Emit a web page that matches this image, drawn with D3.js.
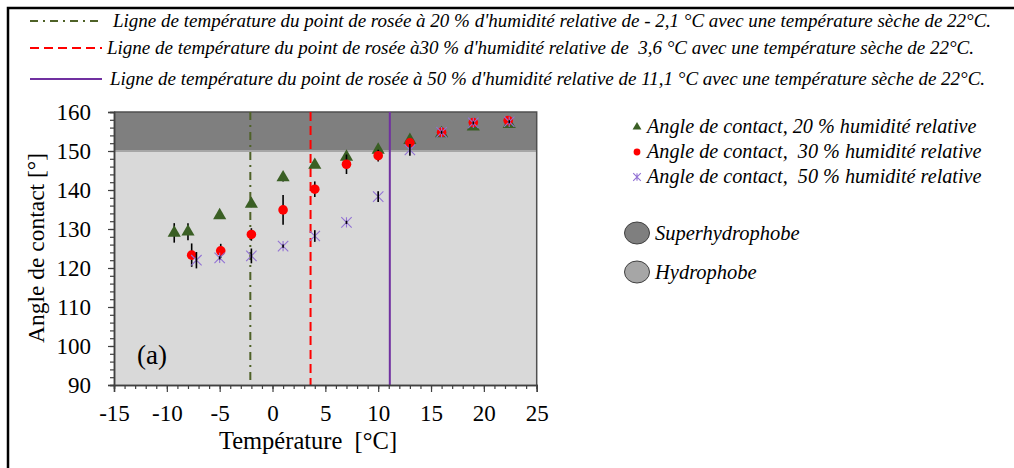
<!DOCTYPE html>
<html>
<head>
<meta charset="utf-8">
<script src="https://cdn.jsdelivr.net/npm/d3@7"></script>
<style>
  html, body { margin: 0; padding: 0; background: #fff; }
  svg { display: block; }
  text { font-family: "Liberation Serif", "Times New Roman", serif; fill: #000; }
</style>
</head>
<body>
<svg id="chart" width="1014" height="468"></svg>
<script>
// Contact angle measurements (°) versus surface temperature (°C)
const temps20  = [-9.3, -8, -5, -2, 1, 4, 7, 10, 13, 16, 19, 22.4];
const angles20 = [129.0, 129.3, 133.5, 136.4, 143.2, 146.4, 148.5, 150.3, 152.8, 154.5, 156.2, 156.9];
const errors20 = [2.5, 2.2, 0.4, 0.8, 1.0, 0.5, 0.5, 0.5, 0.5, 0.4, 0.4, 0.4];

const temps30  = [-7.65, -4.9, -2, 1, 4, 7, 10, 13, 16, 19, 22.3];
const angles30 = [123.3, 124.4, 128.6, 134.9, 140.2, 146.6, 148.8, 152.1, 154.8, 157.3, 157.8];
const errors30 = [3.0, 1.8, 1.6, 3.8, 2.0, 2.5, 1.5, 0.5, 0.5, 0.4, 0.4];

const temps50  = [-7.2, -5, -2, 1, 4, 7, 10, 13, 16, 19, 22.4];
const angles50 = [122.0, 122.6, 123.1, 125.6, 128.2, 131.7, 138.3, 150.3, 154.8, 157.2, 157.5];
const errors50 = [2.1, 0.4, 1.9, 0.4, 1.5, 0.4, 1.4, 1.5, 0.4, 0.4, 0.4];

// Dew point temperatures (°C) at 20 %, 30 % and 50 % RH for a 22 °C dry bulb
const dewPoints = [-2.1, 3.6, 11.1];
const dewLabels = [
  "Ligne de température du point de rosée à 20 % d'humidité relative de - 2,1 °C avec une température sèche de 22°C.",
  "Ligne de température du point de rosée à30 % d'humidité relative de  3,6 °C avec une température sèche de 22°C.",
  "Ligne de température du point de rosée à 50 % d'humidité relative de 11,1 °C avec une température sèche de 22°C."
];
const seriesLabels = [
  "Angle de contact, 20 % humidité relative",
  "Angle de contact,  30 % humidité relative",
  "Angle de contact,  50 % humidité relative"
];
const zoneLabels = ["Superhydrophobe", "Hydrophobe"];
const zoneBounds = [[150, 160], [90, 150]];

const xTicks = [-15, -10, -5, 0, 5, 10, 15, 20, 25];
const yTicks = [90, 100, 110, 120, 130, 140, 150, 160];

const svg = d3.select("#chart");

// Outer frame
svg.append("rect")
  .attr("x", 8).attr("y", 8).attr("width", 1030).attr("height", 480)
  .attr("fill", "none").attr("stroke", "#000").attr("stroke-width", 2.5);

const x = d3.scaleLinear().domain([-15, 25]).range([114, 536.7]);
const y = d3.scaleLinear().domain([90, 160]).range([385, 112]);

// Wettability zones
const zoneFills = ["#7f7f7f", "#d9d9d9"];
svg.selectAll("rect.zone").data(zoneBounds).join("rect")
  .attr("class", "zone")
  .attr("x", x(-15)).attr("width", x(25) - x(-15))
  .attr("y", d => y(d[1])).attr("height", d => y(d[0]) - y(d[1]))
  .attr("fill", (d, i) => zoneFills[i]);
svg.append("line")
  .attr("x1", x(-15)).attr("x2", x(25)).attr("y1", y(150)).attr("y2", y(150))
  .attr("stroke", "#a6a6a6").attr("stroke-width", 2);

// Plot border (top and right)
svg.append("path")
  .attr("d", `M${x(-15)},${y(160)}H${x(25)}V${y(90)}`)
  .attr("fill", "none").attr("stroke", "#505050").attr("stroke-width", 1.5);

// Dew point lines
const lineStyles = [
  { color: "#4f6228", dash: "8,5,2,5" },
  { color: "#ff0000", dash: "9,5" },
  { color: "#7030a0", dash: null }
];
svg.selectAll("line.dew").data(dewPoints).join("line")
  .attr("class", "dew")
  .attr("x1", d => x(d)).attr("x2", d => x(d))
  .attr("y1", y(160)).attr("y2", y(90))
  .attr("stroke", (d, i) => lineStyles[i].color)
  .attr("stroke-width", 2)
  .attr("stroke-dasharray", (d, i) => lineStyles[i].dash);

// Axes
const axisColor = "#404040";
const yAxis = svg.append("g").attr("transform", `translate(${x(-15)},0)`)
  .call(d3.axisLeft(y).tickValues(yTicks).tickSize(6).tickPadding(17).tickFormat(d => String(d)));
const yMinor = svg.append("g").attr("transform", `translate(${x(-15)},0)`)
  .call(d3.axisLeft(y).tickValues(d3.range(90, 161, 2)).tickSize(4).tickFormat(""));
const xAxis = svg.append("g").attr("transform", `translate(0,${y(90)})`)
  .call(d3.axisBottom(x).tickValues(xTicks).tickSize(7).tickFormat(d => String(d)));
const xMinor = svg.append("g").attr("transform", `translate(0,${y(90)})`)
  .call(d3.axisBottom(x).tickValues(d3.range(-15, 26, 1)).tickSize(4).tickFormat(""));

[yAxis, yMinor, xAxis, xMinor].forEach(g => {
  g.select(".domain").attr("stroke", axisColor).attr("stroke-width", 1.5);
  g.selectAll(".tick line").attr("stroke", axisColor).attr("stroke-width", 1.2);
  g.selectAll("text").attr("font-family", "Liberation Serif").attr("font-size", 23).attr("fill", "#000");
});
xAxis.selectAll("text").attr("y", 36).attr("dy", 0);

// Axis titles
svg.append("text")
  .attr("transform", `translate(44,248) rotate(-90)`)
  .attr("text-anchor", "middle").attr("font-size", 23.5)
  .text("Angle de contact [°]");
svg.append("text")
  .attr("x", 308).attr("y", 449)
  .attr("text-anchor", "middle").attr("font-size", 24.5)
  .style("white-space", "pre")
  .text("Température  [°C]");

svg.append("text")
  .attr("x", 137).attr("y", 364).attr("font-size", 27)
  .text("(a)");

// Markers
const green = "#3a5f24", red = "#ff0000", purple = "#9272d4";
const tri = d3.symbol().type(d3.symbolTriangle).size(75);

function errorBars(cls, xs, ys, es) {
  svg.selectAll("line." + cls).data(xs).join("line")
    .attr("class", cls)
    .attr("x1", d => x(d)).attr("x2", d => x(d))
    .attr("y1", (d, i) => y(ys[i] - es[i])).attr("y2", (d, i) => y(ys[i] + es[i]))
    .attr("stroke", "#000").attr("stroke-width", 1.6);
}

function star(sel, s) {
  sel.append("path")
    .attr("d", `M${-s},${-s}L${s},${s}M${-s},${s}L${s},${-s}M0,${-s}L0,${s}`)
    .attr("fill", "none").attr("stroke", purple).attr("stroke-width", 1.1);
}

errorBars("e20", temps20, angles20, errors20);
svg.selectAll("path.m20").data(temps20).join("path")
  .attr("class", "m20")
  .attr("transform", (d, i) => `translate(${x(d)},${y(angles20[i])})`)
  .attr("d", tri).attr("fill", green);

errorBars("e30", temps30, angles30, errors30);
svg.selectAll("circle.m30").data(temps30).join("circle")
  .attr("class", "m30")
  .attr("cx", d => x(d)).attr("cy", (d, i) => y(angles30[i]))
  .attr("r", 4.8).attr("fill", red);

svg.selectAll("g.m50").data(temps50).join("g")
  .attr("class", "m50")
  .attr("transform", (d, i) => `translate(${x(d)},${y(angles50[i])})`)
  .each(function () { star(d3.select(this), 5.2); });
errorBars("e50", temps50, angles50, errors50);

// Dew point legend (top)
const topRows = [21, 48, 79];
const topTextX = [113, 107, 110];
dewLabels.forEach((t, i) => {
  svg.append("line")
    .attr("x1", 30).attr("x2", 102).attr("y1", topRows[i]).attr("y2", topRows[i])
    .attr("stroke", lineStyles[i].color).attr("stroke-width", 2)
    .attr("stroke-dasharray", lineStyles[i].dash);
  svg.append("text")
    .attr("x", topTextX[i]).attr("y", topRows[i]).attr("dy", "0.32em")
    .attr("font-size", 19).attr("font-style", "italic")
    .style("white-space", "pre")
    .text(t);
});

// Series legend (right)
const legRows = [127, 152, 177];
const legX = 637;
const lg = svg.append("g");
lg.append("path").attr("transform", `translate(${legX},${legRows[0]})`)
  .attr("d", d3.symbol().type(d3.symbolTriangle).size(34)).attr("fill", green);
lg.append("circle").attr("cx", legX).attr("cy", legRows[1]).attr("r", 3.4).attr("fill", red);
star(lg.append("g").attr("transform", `translate(${legX},${legRows[2]})`), 3.8);
seriesLabels.forEach((t, i) => {
  lg.append("text")
    .attr("x", 647).attr("y", legRows[i]).attr("dy", "0.32em")
    .attr("font-size", 20.2).attr("font-style", "italic")
    .style("white-space", "pre")
    .text(t);
});

// Zone legend
const zoneRows = [233, 272];
const zoneKeyFills = ["#7f7f7f", "#a6a6a6"];
zoneLabels.forEach((t, i) => {
  svg.append("ellipse")
    .attr("cx", 637).attr("cy", zoneRows[i]).attr("rx", 12.5).attr("ry", 11)
    .attr("fill", zoneKeyFills[i]).attr("stroke", "#404040").attr("stroke-width", 1);
  svg.append("text")
    .attr("x", 655).attr("y", zoneRows[i]).attr("dy", "0.32em")
    .attr("font-size", 20.5).attr("font-style", "italic")
    .text(t);
});
</script>
</body>
</html>
